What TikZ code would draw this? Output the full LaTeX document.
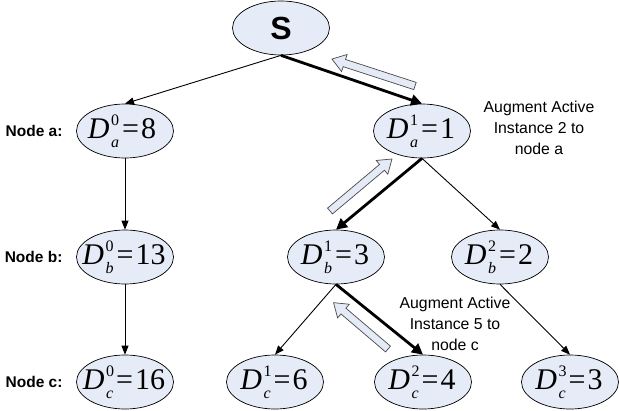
\documentclass[tikz,border=0pt]{standalone}
\usepackage{fontspec}
\setmainfont{Liberation Sans}
\newfontfamily\tms{Liberation Serif}
\usetikzlibrary{arrows.meta,shapes.geometric}
\definecolor{nodefill}{HTML}{E6ECF7}
\definecolor{arrfill}{HTML}{E4EAF6}
\definecolor{arrline}{HTML}{4A4A4A}
\newcommand{\Dval}[3]{{\tms\fontsize{30}{30}\selectfont\textit{D}\kern1.5pt\rlap{\raisebox{0.42em}{\fontsize{16}{16}\selectfont #2}}\raisebox{-0.3em}{\fontsize{16}{16}\selectfont\textit{#1}}\kern3pt=\kern2pt#3}}
\newcommand{\fatarr}[4]{%
  \begin{scope}[shift={(#1,#2)},rotate=#3]
    \draw[fatarrow] (0,-3.8) -- (#4-13,-3.8) -- (#4-13,-9) -- (#4,0) -- (#4-13,9) -- (#4-13,3.8) -- (0,3.8) -- cycle;
  \end{scope}}
\tikzset{
  val/.style={ellipse, draw=black, line width=0.7pt, fill=nodefill, minimum width=97pt, minimum height=54pt, inner sep=0pt},
  vtext/.style={inner sep=0pt},
  rowlab/.style={anchor=east, font=\fontsize{15.5}{17}\selectfont\bfseries},
  note/.style={align=center, font=\fontsize{15.8}{21}\selectfont},
  thinedge/.style={line width=0.9pt, -{Triangle[length=9pt,width=7pt]}},
  thickedge/.style={line width=2.8pt, -{Triangle[length=11pt,width=11pt]}},
  fatarrow/.style={draw=arrline, fill=arrfill, line width=0.7pt, line join=miter}
}
\begin{document}
\begin{tikzpicture}[x=1pt,y=-1pt]
\useasboundingbox (0,0) rectangle (619,410);
% root
\node[val] (S) at (281,28) {};
\node[vtext, font=\fontsize{32}{32}\selectfont\bfseries] (St) at (S) {S};
% row a
\node[val] (a0) at (125,131) {};
\node[vtext] (a0t) at (122,131) {\Dval{a}{0}{8}};
\node[val] (a1) at (422,131) {};
\node[vtext] (a1t) at (421,131) {\Dval{a}{1}{1}};
% row b
\node[val] (b0) at (125,257) {};
\node[vtext] (b0t) at (124,257) {\Dval{b}{0}{13}};
\node[val] (b1) at (336,257) {};
\node[vtext] (b1t) at (335,257) {\Dval{b}{1}{3}};
\node[val] (b2) at (500,257) {};
\node[vtext] (b2t) at (499,257) {\Dval{b}{2}{2}};
% row c
\node[val] (c0) at (125,382) {};
\node[vtext] (c0t) at (124,382) {\Dval{c}{0}{16}};
\node[val] (c1) at (275,382) {};
\node[vtext] (c1t) at (274,382) {\Dval{c}{1}{6}};
\node[val] (c2) at (423,382) {};
\node[vtext] (c2t) at (422,382) {\Dval{c}{2}{4}};
\node[val] (c3) at (570,382) {};
\node[vtext] (c3t) at (569,382) {\Dval{c}{3}{3}};
% row labels
\node[rowlab] (la) at (66,131) {Node a:};
\node[rowlab] (lb) at (66,257) {Node b:};
\node[rowlab] (lc) at (66,382) {Node c:};
% notes
\node[note] (n1) at (539,128) {Augment Active\\Instance 2 to\\node a};
\node[note] (n2) at (455,324) {Augment Active\\Instance 5 to\\node c};
% edges
\draw[thinedge] (S.south) -- (a0.north);
\draw[thickedge] (S.south) -- (a1.north);
\draw[thinedge] (a0.south) -- (b0.north);
\draw[thinedge] (b0.south) -- (c0.north);
\draw[thickedge] (a1.south) -- (b1.north);
\draw[thinedge] (a1.south) -- (b2.north);
\draw[thinedge] (b1.south) -- (c1.north);
\draw[thickedge] (b1.south) -- (c2.north);
\draw[thinedge] (b2.south) -- (c3.north);
% hollow direction arrows
\fatarr{415}{86}{162}{87.3}
\fatarr{330}{211}{40}{80.9}
\fatarr{388}{349}{139.6}{71.5}
\end{tikzpicture}
\end{document}
